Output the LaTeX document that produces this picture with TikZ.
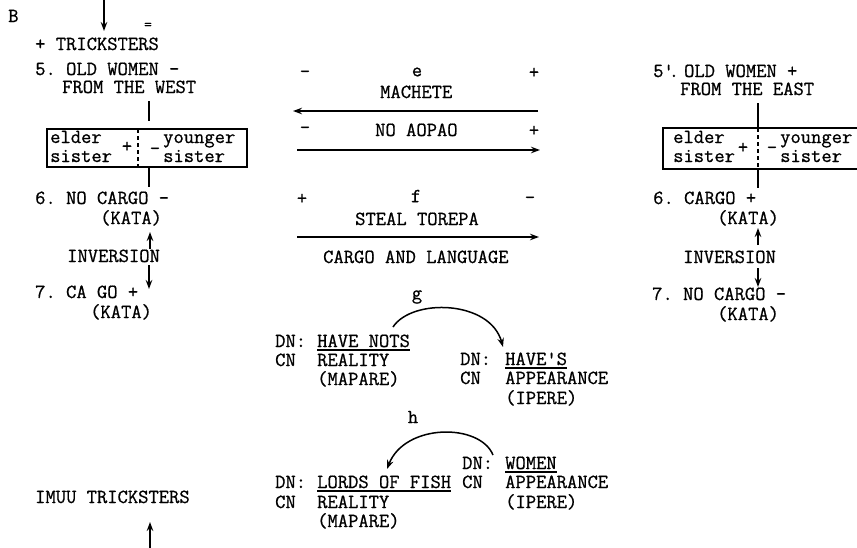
\documentclass[tikz,border=0pt]{standalone}
\usepackage{fontspec}
\setmainfont{Latin Modern Mono}[FakeBold=0.8]
\usetikzlibrary{arrows.meta}
\newcommand{\sq}{\textquotesingle}
\begin{document}
\begin{tikzpicture}[x=1pt,y=-1pt,
  txt/.style={anchor=base west,inner sep=0pt,font=\fontsize{20}{22}\selectfont\frenchspacing},
  sym/.style={anchor=center,inner sep=0pt,font=\fontsize{20}{22}\selectfont},
  small/.style={anchor=center,inner sep=0pt,font=\fontsize{15}{17}\selectfont},
  ln/.style={line width=1.5pt},
  arr/.style={line width=1.5pt,-{Stealth[length=9pt,width=6.5pt]}},
  uline/.style={line width=1.2pt},
  divider/.style={line width=1.2pt,dash pattern=on 4pt off 3pt}]
\useasboundingbox (0,0) rectangle (857,547);

% ---------- top left ----------
\node[txt] (B) at (8,22) {B};
\coordinate (topa) at (104,-3);
\coordinate (topb) at (104,31);
\draw[arr] (topa) -- (topb);
\node[small] (eq) at (148,26) {=};
\node[txt] (trk) at (35,50) {+ TRICKSTERS};

% ---------- left column ----------
\node[txt] (ow) at (35,75) {5. OLD WOMEN -};
\node[txt] (fw) at (62,93) {FROM THE WEST};
\coordinate (la1) at (149,101);
\coordinate (la2) at (149,121);
\draw[ln] (la1) -- (la2);
\draw[ln] (47,129) rectangle (247,167);
\coordinate (ld1) at (138,129);
\coordinate (ld2) at (138,167);
\draw[divider] (ld1) -- (ld2);
\node[txt] (le1) at (50,143) {elder};
\node[txt] (ls1) at (50,162) {sister};
\node[sym] (lp) at (127,147) {+};
\node[sym] (lm) at (155,151) {-};
\node[txt] (ly1) at (163,143) {younger};
\node[txt] (ly2) at (163,162) {sister};
\coordinate (lb1) at (149,167);
\coordinate (lb2) at (149,187);
\draw[ln] (lb1) -- (lb2);
\node[txt] (l6) at (35,204) {6. NO CARGO -};
\node[txt] (lk1) at (100,224) {(KATA)};
\coordinate (lu1) at (150,249);
\coordinate (lu2) at (150,232);
\draw[arr] (lu1) -- (lu2);
\node[txt] (linv) at (67,262) {INVERSION};
\coordinate (ldn1) at (149,265);
\coordinate (ldn2) at (149,289);
\draw[arr] (ldn1) -- (ldn2);
\node[txt] (l7) at (35,298) {7. CA GO +};
\node[txt] (lk2) at (90,318) {(KATA)};

% ---------- center: e ----------
\node[sym] (em1) at (305,74) {-};
\node[sym] (el) at (417,72) {e};
\node[sym] (ep1) at (534,73) {+};
\node[txt] (mach) at (380,98) {MACHETE};
\coordinate (ea1) at (538,111);
\coordinate (ea2) at (293,111);
\draw[arr] (ea1) -- (ea2);
\node[sym] (em2) at (305,130) {-};
\node[txt] (noa) at (375,136) {NO AOPAO};
\node[sym] (ep2) at (534,131) {+};
\coordinate (eb1) at (297,150);
\coordinate (eb2) at (540,150);
\draw[arr] (eb1) -- (eb2);

% ---------- center: f ----------
\node[sym] (fp) at (302,199) {+};
\node[sym] (fl) at (416,196) {f};
\node[sym] (fm) at (530,200) {-};
\node[txt] (steal) at (355,225) {STEAL TOREPA};
\coordinate (fa1) at (297,237);
\coordinate (fa2) at (539,237);
\draw[arr] (fa1) -- (fa2);
\node[txt] (cal) at (323,263) {CARGO AND LANGUAGE};

% ---------- center: g ----------
\node[sym] (gl) at (417,297) {g};
\node[txt] (dn1) at (275,347) {DN:};
\node[txt] (hn) at (317,347) {HAVE NOTS};
\draw[uline] ([yshift=-3pt]hn.base west) -- ([yshift=-3pt]hn.base east);
\node[txt] (cn1) at (275,366) {CN};
\node[txt] (re1) at (317,366) {REALITY};
\node[txt] (ma1) at (317,385) {(MAPARE)};
\node[txt] (dn2) at (460,365) {DN:};
\node[txt] (hv) at (505,365) {HAVE\sq S};
\draw[uline] ([yshift=-3pt]hv.base west) -- ([yshift=-3pt]hv.base east);
\node[txt] (cn2) at (460,384) {CN};
\node[txt] (ap1) at (505,384) {APPEARANCE};
\node[txt] (ip1) at (505,404) {(IPERE)};
\coordinate (g1) at (393,327);
\coordinate (g2) at (503,347);
\draw[arr] (g1) .. controls (412,298) and (490,300) .. (g2);

% ---------- center: h ----------
\node[sym] (hl) at (413,417) {h};
\node[txt] (dn3) at (462,469) {DN:};
\node[txt] (wo) at (505,469) {WOMEN};
\draw[uline] ([yshift=-3pt]wo.base west) -- ([yshift=-3pt]wo.base east);
\node[txt] (dn4) at (275,488) {DN:};
\node[txt] (lf) at (317,488) {LORDS OF FISH};
\draw[uline] ([yshift=-3pt]lf.base west) -- ([yshift=-3pt]lf.base east);
\node[txt] (cn3) at (462,488) {CN};
\node[txt] (ap2) at (505,488) {APPEARANCE};
\node[txt] (cn4) at (275,508) {CN};
\node[txt] (re2) at (317,508) {REALITY};
\node[txt] (ip2) at (505,508) {(IPERE)};
\node[txt] (ma2) at (317,527) {(MAPARE)};
\coordinate (h1) at (493,455);
\coordinate (h2) at (387,469);
\draw[arr] (h1) .. controls (480,423) and (405,423) .. (h2);

% ---------- right column ----------
\node[txt] (row) at (653,77) {5\sq\hspace{-5pt}.\hspace{5pt}OLD WOMEN +};
\node[txt] (rfe) at (680,95) {FROM THE EAST};
\coordinate (ra1) at (758,103);
\coordinate (ra2) at (758,128);
\draw[ln] (ra1) -- (ra2);
\draw[ln] (663,128) rectangle (872,169);
\coordinate (rd1) at (758,128);
\coordinate (rd2) at (758,169);
\draw[divider] (rd1) -- (rd2);
\node[txt] (re1b) at (673,143) {elder};
\node[txt] (rs1) at (673,162) {sister};
\node[sym] (rp) at (743,148) {+};
\node[sym] (rm) at (772,150) {-};
\node[txt] (ry1) at (780,143) {younger};
\node[txt] (ry2) at (780,162) {sister};
\coordinate (rb1) at (758,169);
\coordinate (rb2) at (758,188);
\draw[ln] (rb1) -- (rb2);
\node[txt] (r6) at (653,204) {6. CARGO +};
\node[txt] (rk1) at (717,224) {(KATA)};
\coordinate (ru1) at (758,245);
\coordinate (ru2) at (758,228);
\draw[arr] (ru1) -- (ru2);
\node[txt] (rinv) at (683,263) {INVERSION};
\coordinate (rdn1) at (758,268);
\coordinate (rdn2) at (758,287);
\draw[arr] (rdn1) -- (rdn2);
\node[txt] (r7) at (652,300) {7. NO CARGO -};
\node[txt] (rk2) at (717,320) {(KATA)};

% ---------- bottom left ----------
\node[txt] (imuu) at (35,503) {IMUU TRICKSTERS};
\coordinate (bu1) at (150,550);
\coordinate (bu2) at (150,522);
\draw[arr] (bu1) -- (bu2);
\end{tikzpicture}
\end{document}
